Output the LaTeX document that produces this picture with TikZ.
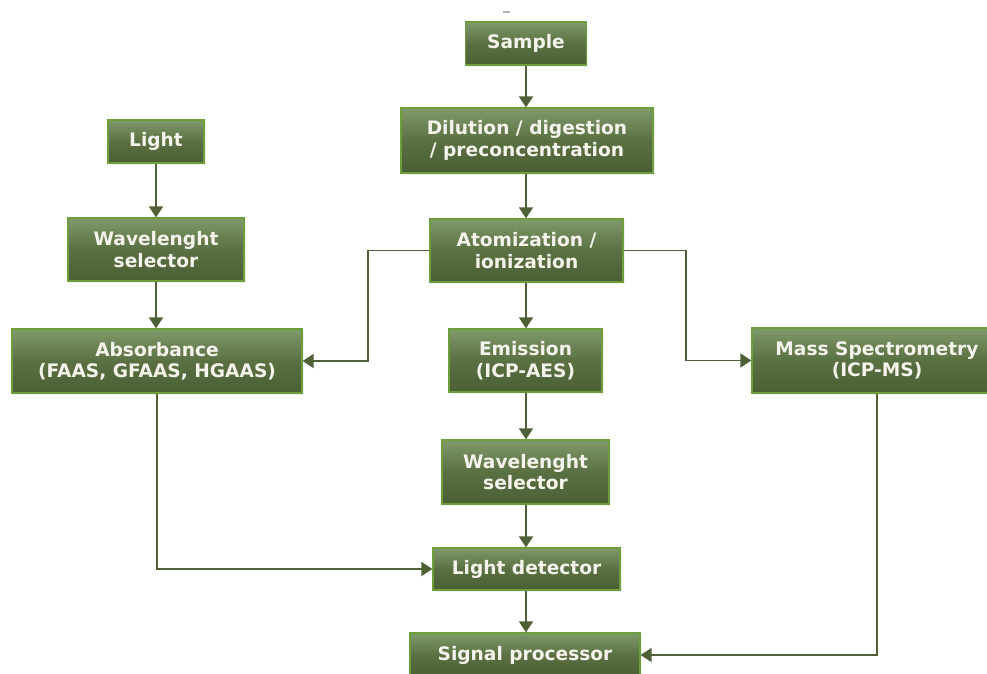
\documentclass[tikz,border=0pt]{standalone}
\usepackage{fontspec}
\setmainfont{DejaVu Sans}
\usetikzlibrary{arrows.meta,shadows}
\definecolor{boxtop}{HTML}{809A6A}
\definecolor{boxmid}{HTML}{5A7042}
\definecolor{boxbot}{HTML}{4A5F34}
\definecolor{boxedge}{HTML}{6E9E3C}
\definecolor{linecol}{HTML}{4E6136}
\definecolor{txtcol}{HTML}{F4F4EC}
\tikzset{
  box/.style={draw=boxedge, line width=1.2pt, top color=boxtop, bottom color=boxbot, middle color=boxmid,
    text=txtcol, font=\fontsize{18.6}{21.5}\selectfont\bfseries, align=center, inner sep=0pt,
    drop shadow={opacity=0.12, shadow xshift=1.5pt, shadow yshift=-1.5pt}},
  conn/.style={draw=linecol, line width=1.6pt, -{Triangle[length=11pt,width=14pt]}},
}
\begin{document}
\begin{tikzpicture}[x=1pt,y=-1pt]
\useasboundingbox (0,0) rectangle (987,673);
\draw[gray!60, line width=1.2pt] (503,12) -- (510,12);
\node[box, minimum width=121pt, minimum height=43pt] (sample) at (526,43.5) {Sample};
\node[box, minimum width=252pt, minimum height=65pt] (dil) at (527,140.5) {Dilution / digestion\\/ preconcentration};
\node[box, minimum width=193pt, minimum height=63pt] (atom) at (526.5,250.5) {Atomization /\\ionization};
\node[box, minimum width=96pt, minimum height=43pt] (light) at (156,141.5) {Light};
\node[box, minimum width=176pt, minimum height=63pt] (wl1) at (156,249.5) {Wavelenght\\selector};
\node[box, minimum width=290pt, minimum height=64pt] (abs) at (157,361) {Absorbance\\(FAAS, GFAAS, HGAAS)};
\node[box, minimum width=153pt, minimum height=63pt] (emis) at (525.5,360.5) {Emission\\(ICP-AES)};
\node[box, minimum width=250pt, minimum height=65pt] (ms) at (877,360.5) {Mass Spectrometry\\(ICP-MS)};
\node[box, minimum width=167pt, minimum height=64pt] (wl2) at (525.5,472) {Wavelenght\\selector};
\node[box, minimum width=187pt, minimum height=42pt] (det) at (526.5,569) {Light detector};
\node[box, minimum width=230pt, minimum height=44pt] (sig) at (525,655) {Signal processor};
\draw[conn] (sample.south) -- (sample.south |- dil.north);
\draw[conn] (sample.south |- dil.south) -- (sample.south |- atom.north);
\draw[conn] (light) -- (wl1);
\draw[conn] (wl1.south) -- (wl1.south |- abs.north);
\draw[conn] (sample.south |- atom.south) -- (sample.south |- emis.north);
\draw[conn] (sample.south |- emis.south) -- (sample.south |- wl2.north);
\draw[conn] (sample.south |- wl2.south) -- (sample.south |- det.north);
\draw[conn] (sample.south |- det.south) -- (sample.south |- sig.north);
\draw[conn] (atom.west) -- (368,250.5) |- (abs.east);
\draw[conn] (atom.east) -- (686,250.5) |- (ms.west);
\draw[conn] (abs.south) |- (det.west);
\draw[conn] (ms.south) |- (sig.east);
\end{tikzpicture}
\end{document}
